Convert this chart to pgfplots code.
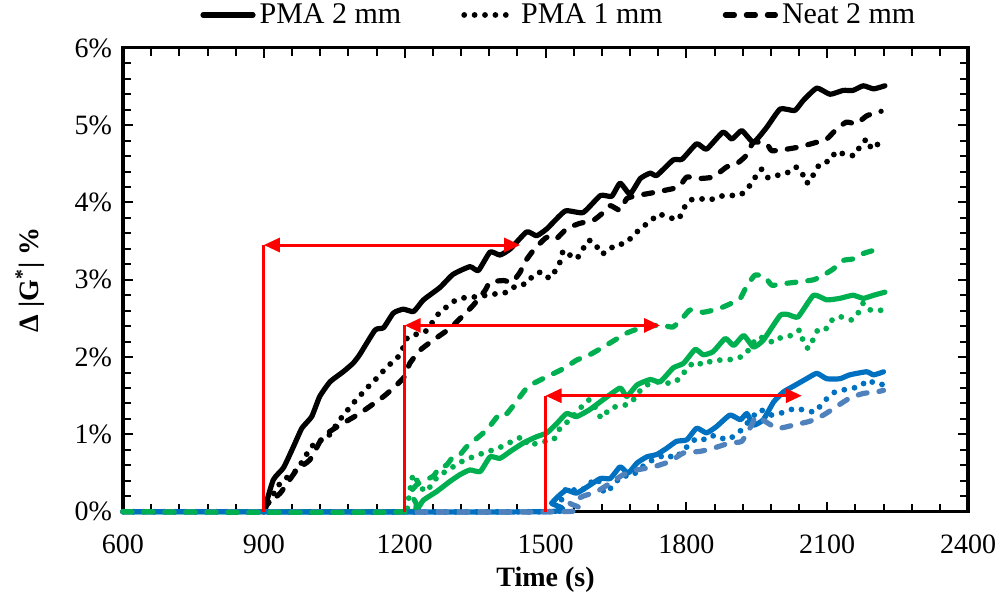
\documentclass[border=0pt]{standalone}
\usepackage{fontspec}
\setmainfont{Liberation Serif}
\usepackage{pgfplots}
\pgfplotsset{compat=1.18}
\usetikzlibrary{arrows.meta}
\definecolor{gr}{RGB}{0,176,80}
\definecolor{bl}{RGB}{0,112,192}
\definecolor{lbl}{RGB}{79,129,189}
\tikzset{
  solidL/.style={line width=2.6pt, line join=round, line cap=round},
  dotL/.style={line width=2.9pt, line cap=round, dash pattern=on 0pt off 5.2pt},
  dashL/.style={line width=2.6pt, line cap=round, line join=round, dash pattern=on 4.5pt off 6pt},
}
\begin{document}
\begin{tikzpicture}
\begin{axis}[
  scale only axis,
  width=422.5pt, height=231.9pt,
  xmin=600, xmax=2400, ymin=0, ymax=6,
  xtick={600,900,...,2400}, ytick={0,1,...,6},
  minor x tick num=4, minor y tick num=4,
  tick align=inside, major tick length=5pt, minor tick length=4pt,
  tick style={black, line width=1pt},
  axis line style={line width=1.6pt},
  clip=false,
  every axis plot/.append style={smooth, tension=0.3},
  /pgf/number format/assume math mode=true,
  /pgf/number format/1000 sep={},
  yticklabel={\pgfmathprintnumber{\tick}\%},
  tick label style={font=\fontsize{14}{16}\selectfont},
  xticklabel style={yshift=-8pt},
  yticklabel style={xshift=-2pt},
  xlabel={Time (s)},
  ylabel={Δ |G\textsuperscript{*}| \%},
  label style={font=\bfseries\fontsize{14}{16}\selectfont},
  xlabel style={at={(axis description cs:0.5,-0.147)}, anchor=center},
  ylabel style={at={(axis description cs:-0.110,0.5)}, anchor=center},
  legend columns=3,
  legend style={draw=none, fill=none, font=\fontsize{15}{17}\selectfont,
    at={(0.517,1.071)}, anchor=center,
    /tikz/every even column/.append style={column sep=28pt},
    nodes={inner xsep=2pt}},
  legend image code/.code={\draw[#1, sharp plot] (0pt,0pt) -- (25pt,0pt);},
]
% black: start 900 s
\addplot[black, solidL] coordinates {
 (900,0) (920,0.41) (942,0.57) (963,0.84) (981,1.08) (1002,1.23) (1019,1.49)
 (1041,1.68) (1069,1.81) (1090,1.92) (1104,2.03) (1137,2.35) (1155,2.38)
 (1176,2.57) (1197,2.62) (1219,2.59) (1240,2.74) (1275,2.90) (1303,3.07)
 (1339,3.17) (1357,3.12) (1382,3.36) (1403,3.32) (1425,3.40) (1460,3.62)
 (1481,3.57) (1503,3.66) (1542,3.89) (1580,3.87) (1617,4.09) (1641,4.08)
 (1659,4.25) (1680,4.11) (1702,4.31) (1723,4.38) (1737,4.35) (1772,4.55)
 (1791,4.56) (1822,4.76) (1843,4.69) (1878,4.91) (1897,4.82) (1918,4.93)
 (1943,4.78) (1971,4.97) (2000,5.21) (2031,5.19) (2049,5.32) (2078,5.48)
 (2106,5.40) (2134,5.45) (2155,5.45) (2177,5.51) (2199,5.47) (2223,5.51)
};
\addlegendentry{PMA 2 mm}
\addplot[black, dotL] coordinates {
 (900,0) (906,0.07) (935,0.37) (970,0.54) (995,0.78) (1012,0.91) (1034,0.95)
 (1062,1.19) (1090,1.40) (1123,1.62) (1141,1.73) (1162,1.87) (1190,2.03)
 (1207,2.26) (1244,2.33) (1272,2.56) (1307,2.73) (1329,2.77) (1352,2.78)
 (1396,2.82) (1418,2.84) (1439,2.93) (1460,2.95) (1474,3.06) (1492,3.10)
 (1510,3.02) (1531,3.23) (1538,3.38) (1552,3.32) (1566,3.27) (1580,3.40)
 (1591,3.51) (1606,3.47) (1617,3.34) (1631,3.36) (1648,3.45) (1669,3.47)
 (1687,3.57) (1705,3.68) (1723,3.75) (1740,3.85) (1762,3.81) (1783,3.78)
 (1794,3.92) (1808,4.03) (1829,4.05) (1849,4.03) (1870,4.08) (1893,4.09)
 (1916,4.10) (1934,4.21) (1946,4.32) (1960,4.43) (1974,4.32) (1993,4.35)
 (2014,4.38) (2032,4.46) (2046,4.40) (2053,4.26) (2065,4.27) (2073,4.40)
 (2087,4.51) (2106,4.54) (2119,4.66) (2138,4.62) (2159,4.61) (2171,4.74)
 (2185,4.82) (2195,4.69) (2211,4.77) (2221,4.76)
};
\addlegendentry{PMA 1 mm}
\addplot[black, dashL] coordinates {
 (900,0) (909,0.11) (935,0.24) (970,0.54) (998,0.67) (1026,0.97) (1062,1.12)
 (1104,1.27) (1155,1.49) (1183,1.64) (1200,1.75) (1211,1.92) (1233,2.09)
 (1261,2.22) (1296,2.37) (1325,2.54) (1346,2.67) (1371,2.86) (1382,2.97)
 (1411,2.99) (1429,2.97) (1446,3.10) (1456,3.23) (1474,3.38) (1488,3.47)
 (1503,3.55) (1521,3.52) (1545,3.66) (1573,3.73) (1602,3.77) (1623,3.87)
 (1638,3.96) (1659,3.90) (1673,4.05) (1695,4.09) (1723,4.12) (1772,4.18)
 (1787,4.22) (1801,4.33) (1826,4.31) (1857,4.33) (1886,4.46) (1907,4.50)
 (1928,4.61) (1943,4.78) (1971,4.76) (1982,4.67) (2014,4.69) (2042,4.72)
 (2078,4.78) (2099,4.82) (2120,4.95) (2141,5.04) (2162,5.02) (2184,5.12)
 (2206,5.17) (2215,5.18)
};
\addlegendentry{Neat 2 mm}
% green solid and dotted: start 1200 s
\addplot[gr, solidL, forget plot] coordinates {
 (600,0) (1200,0) (1226,0.03) (1240,0.15) (1268,0.26) (1296,0.39) (1318,0.48)
 (1339,0.54) (1361,0.52) (1382,0.71) (1403,0.69) (1425,0.78) (1453,0.89)
 (1481,0.97) (1503,1.02) (1524,1.14) (1545,1.27) (1566,1.23) (1594,1.32)
 (1623,1.45) (1659,1.60) (1673,1.49) (1695,1.64) (1723,1.71) (1744,1.68)
 (1772,1.86) (1794,1.92) (1819,2.10) (1836,2.03) (1857,2.07) (1883,2.24)
 (1901,2.15) (1922,2.28) (1943,2.13) (1964,2.22) (2000,2.54) (2017,2.55)
 (2038,2.52) (2071,2.80) (2099,2.74) (2127,2.76) (2155,2.80) (2177,2.76)
 (2199,2.80) (2223,2.84)
};
\addplot[gr, dotL, forget plot] coordinates {
 (600,0) (1200,0) (1205,0.05) (1218,0.48) (1232,0.33) (1247,0.26) (1262,0.40)
 (1282,0.50) (1303,0.58) (1325,0.66) (1346,0.71) (1368,0.76) (1389,0.80)
 (1410,0.85) (1432,0.92) (1453,0.97) (1463,0.86) (1490,0.90) (1517,0.93)
 (1531,1.08) (1552,1.19) (1594,1.45) (1619,1.21) (1638,1.34) (1680,1.40)
 (1709,1.62) (1740,1.68) (1768,1.66) (1787,1.73) (1801,1.85) (1819,1.94)
 (1836,1.90) (1857,1.96) (1883,1.96) (1904,1.98) (1925,2.03) (1953,2.26)
 (1986,2.19) (2003,2.26) (2024,2.28) (2042,2.35) (2049,2.20) (2060,2.11)
 (2071,2.24) (2082,2.37) (2099,2.37) (2113,2.50) (2131,2.52) (2152,2.48)
 (2166,2.57) (2177,2.70) (2192,2.61) (2209,2.60) (2217,2.61)
};
% blue: start 1500 s
\addplot[bl, solidL, forget plot] coordinates {
 (600,0) (1500,0) (1513,0.11) (1531,0.22) (1545,0.28) (1566,0.24) (1591,0.33)
 (1617,0.43) (1638,0.43) (1659,0.58) (1676,0.50) (1695,0.63) (1716,0.71)
 (1737,0.74) (1758,0.82) (1779,0.91) (1801,0.93) (1822,1.08) (1843,1.02)
 (1864,1.10) (1893,1.25) (1915,1.19) (1929,1.27) (1943,1.12) (1964,1.19)
 (1986,1.42) (2007,1.55) (2030,1.63) (2056,1.72) (2078,1.79) (2099,1.72)
 (2127,1.72) (2148,1.77) (2184,1.81) (2199,1.77) (2220,1.81)
};
\addplot[bl, dotL, forget plot] coordinates {
 (600,0) (1500,0) (1528,0.07) (1545,0.31) (1573,0.26) (1609,0.43) (1627,0.24)
 (1662,0.46) (1683,0.46) (1716,0.63) (1737,0.69) (1758,0.74) (1775,0.69)
 (1791,0.78) (1822,0.95) (1843,0.93) (1861,0.99) (1886,0.93) (1911,1.02)
 (1939,1.21) (1957,1.32) (1980,1.25) (2010,1.29) (2032,1.34) (2046,1.32)
 (2075,1.29) (2089,1.40) (2117,1.55) (2171,1.62) (2184,1.70) (2212,1.64)
 (2218,1.65)
};
\addplot[lbl, dashL, forget plot] coordinates {
 (600,0) (1537,0) (1552,0.11) (1580,0.20) (1609,0.26) (1638,0.37) (1666,0.48)
 (1695,0.54) (1730,0.58) (1765,0.65) (1794,0.76) (1829,0.78) (1857,0.82)
 (1893,0.89) (1918,0.91) (1939,1.12) (1950,1.23) (1993,1.08) (2028,1.12)
 (2063,1.17) (2092,1.25) (2120,1.36) (2148,1.47) (2177,1.53) (2206,1.55)
 (2220,1.57)
};
% green dashed on top
\addplot[gr, dashL, forget plot] coordinates {
 (600,0) (1200,0) (1211,0.24) (1226,0.35) (1237,0.39) (1261,0.46) (1275,0.58)
 (1289,0.60) (1303,0.71) (1318,0.74) (1332,0.84) (1346,0.91) (1375,1.06)
 (1403,1.27) (1418,1.27) (1460,1.60) (1481,1.68) (1538,1.85) (1566,1.96)
 (1594,2.03) (1623,2.13) (1673,2.31) (1709,2.39) (1737,2.41) (1751,2.41)
 (1772,2.39) (1794,2.52) (1808,2.61) (1836,2.58) (1871,2.63) (1901,2.71)
 (1915,2.76) (1928,2.91) (1946,3.06) (1967,3.04) (1982,2.93) (2007,2.95)
 (2035,2.97) (2071,3.00) (2092,3.06) (2113,3.14) (2134,3.25) (2155,3.27)
 (2177,3.34) (2199,3.38) (2220,3.40)
};
% red markers
\addplot[red, line width=1.5pt, sharp plot, forget plot] coordinates {(900,0) (900,3.45)};
\addplot[red, line width=1.5pt, sharp plot, forget plot, {Triangle[length=8pt,width=7pt]}-{Triangle[length=8pt,width=7pt]}] coordinates {(900,3.45) (1446,3.45)};
\addplot[red, line width=1.5pt, sharp plot, forget plot] coordinates {(1200,0) (1200,2.41)};
\addplot[red, line width=1.5pt, sharp plot, forget plot, {Triangle[length=8pt,width=7pt]}-{Triangle[length=8pt,width=7pt]}] coordinates {(1200,2.41) (1744,2.41)};
\addplot[red, line width=1.5pt, sharp plot, forget plot] coordinates {(1500,0) (1500,1.50)};
\addplot[red, line width=1.5pt, sharp plot, forget plot, {Triangle[length=8pt,width=7pt]}-{Triangle[length=8pt,width=7pt]}] coordinates {(1500,1.50) (2046,1.50)};
\end{axis}
\pgfresetboundingbox
\path[use as bounding box] ([shift={(-61.5pt,-45.15pt)}]current axis.south west) rectangle ([shift={(16.5pt,23.95pt)}]current axis.north east);
\end{tikzpicture}
\end{document}
